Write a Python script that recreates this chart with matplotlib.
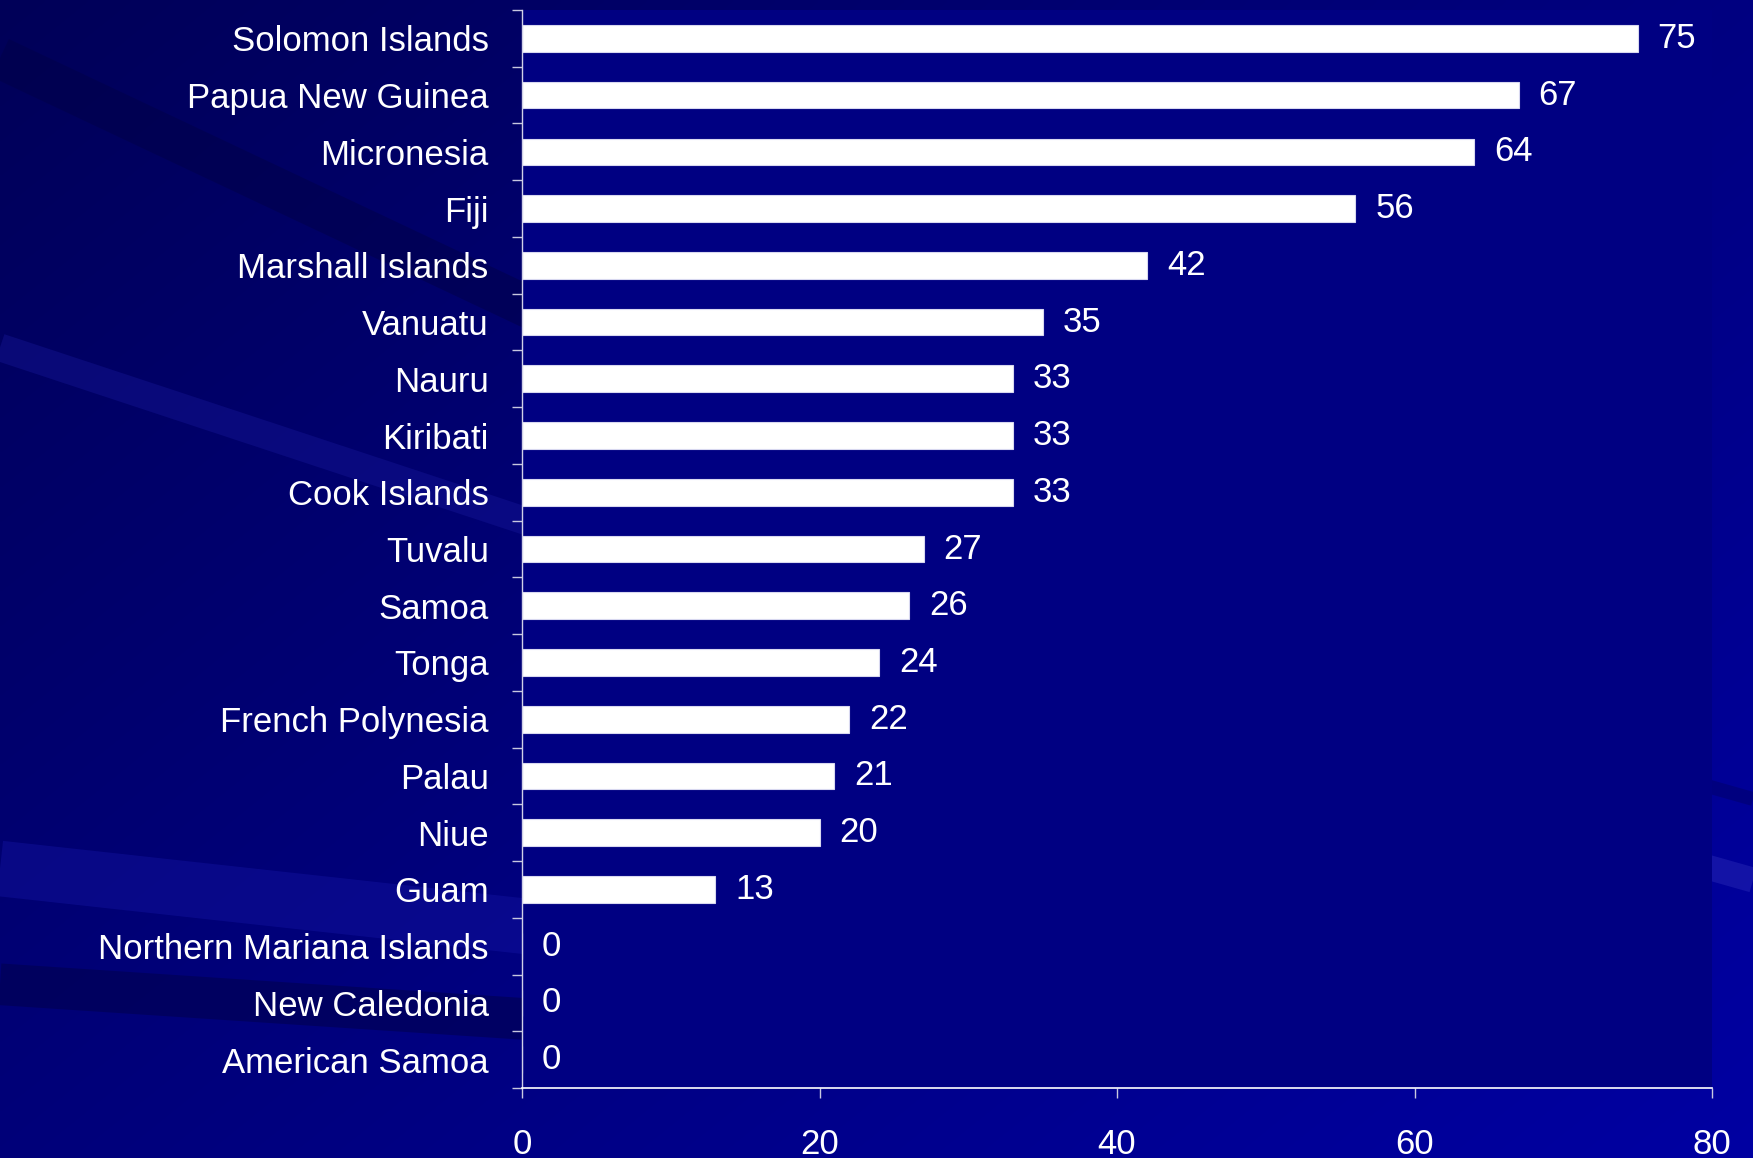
import matplotlib
matplotlib.use("Agg")
import matplotlib.pyplot as plt
import numpy as np

categories = ["Solomon Islands", "Papua New Guinea", "Micronesia", "Fiji",
              "Marshall Islands", "Vanuatu", "Nauru", "Kiribati", "Cook Islands",
              "Tuvalu", "Samoa", "Tonga", "French Polynesia", "Palau", "Niue",
              "Guam", "Northern Mariana Islands", "New Caledonia", "American Samoa"]
values = [75, 67, 64, 56, 42, 35, 33, 33, 33, 27, 26, 24, 22, 21, 20, 13, 0, 0, 0]
xticks = [0, 20, 40, 60, 80]

plt.rcParams['font.family'] = ['Liberation Sans', 'DejaVu Sans']

W, H = 1753, 1158
fig = plt.figure(figsize=(W / 100, H / 100), dpi=100)

# background gradient
bg = fig.add_axes([0, 0, 1, 1], zorder=-10)
yy, xx = np.mgrid[0:1:300j, 0:1:450j]
t = np.clip(0.55 * xx + 0.45 * yy, 0, 1)
dark = np.array([0x00, 0x00, 0x58]) / 255
light = np.array([0x00, 0x00, 0xa2]) / 255
img = dark[None, None, :] * (1 - t[..., None]) + light[None, None, :] * t[..., None]
bg.imshow(img, extent=[0, 1, 1, 0], aspect='auto', interpolation='bilinear')
# faint diagonal streaks
for (x0, y0, x1, y1, w, c, a) in [
        (0.0, 0.05, 0.35, 0.30, 30, '#000048', 0.5),
        (0.0, 0.30, 0.30, 0.45, 20, '#1a1aa0', 0.35),
        (0.0, 0.75, 0.30, 0.80, 40, '#1515a5', 0.4),
        (0.0, 0.85, 0.30, 0.88, 30, '#000050', 0.6),
        (0.86, 0.70, 1.0, 0.76, 18, '#2020b0', 0.6),
        (0.86, 0.63, 1.0, 0.69, 10, '#000070', 0.6)]:
    bg.plot([x0, x1], [y0, y1], color=c, lw=w, alpha=a, solid_capstyle='butt')
bg.set_xlim(0, 1)
bg.set_ylim(1, 0)
bg.axis('off')

ax = fig.add_axes([522 / W, 1 - 1088 / H, (1712 - 522) / W, (1088 - 10) / H])
ax.set_facecolor('#000082')
n = len(categories)
pos = np.arange(n)
ax.barh(pos, values, height=0.47, color='white', edgecolor='#d8d8f0', linewidth=0.8)
ax.set_ylim(n - 0.5, -0.5)
ax.set_xlim(0, 80)

for p, v in zip(pos, values):
    ax.text(v + 1.35, p, str(v), color='white', fontsize=25, va='center', ha='left')

ax.set_yticks(pos)
ax.set_yticklabels(categories)
ax.set_yticks(np.arange(n + 1) - 0.5, minor=True)
ax.tick_params(axis='y', which='major', length=0, pad=24, labelsize=25, labelcolor='white')
ax.tick_params(axis='y', which='minor', length=7, width=1, color='#c8c8e0', direction='out')
ax.set_xticks(xticks)
ax.set_xticklabels([str(x) for x in xticks])
ax.tick_params(axis='x', which='major', length=7, width=1, color='#c8c8e0', direction='out',
               pad=22, labelsize=25, labelcolor='white')

for s in ['top', 'right']:
    ax.spines[s].set_visible(False)
ax.spines['left'].set_color('#d0d0e8')
ax.spines['bottom'].set_color('white')
ax.spines['left'].set_linewidth(1)
ax.spines['bottom'].set_linewidth(1.2)

fig.savefig('out.png', dpi=100, facecolor='#00008a')
